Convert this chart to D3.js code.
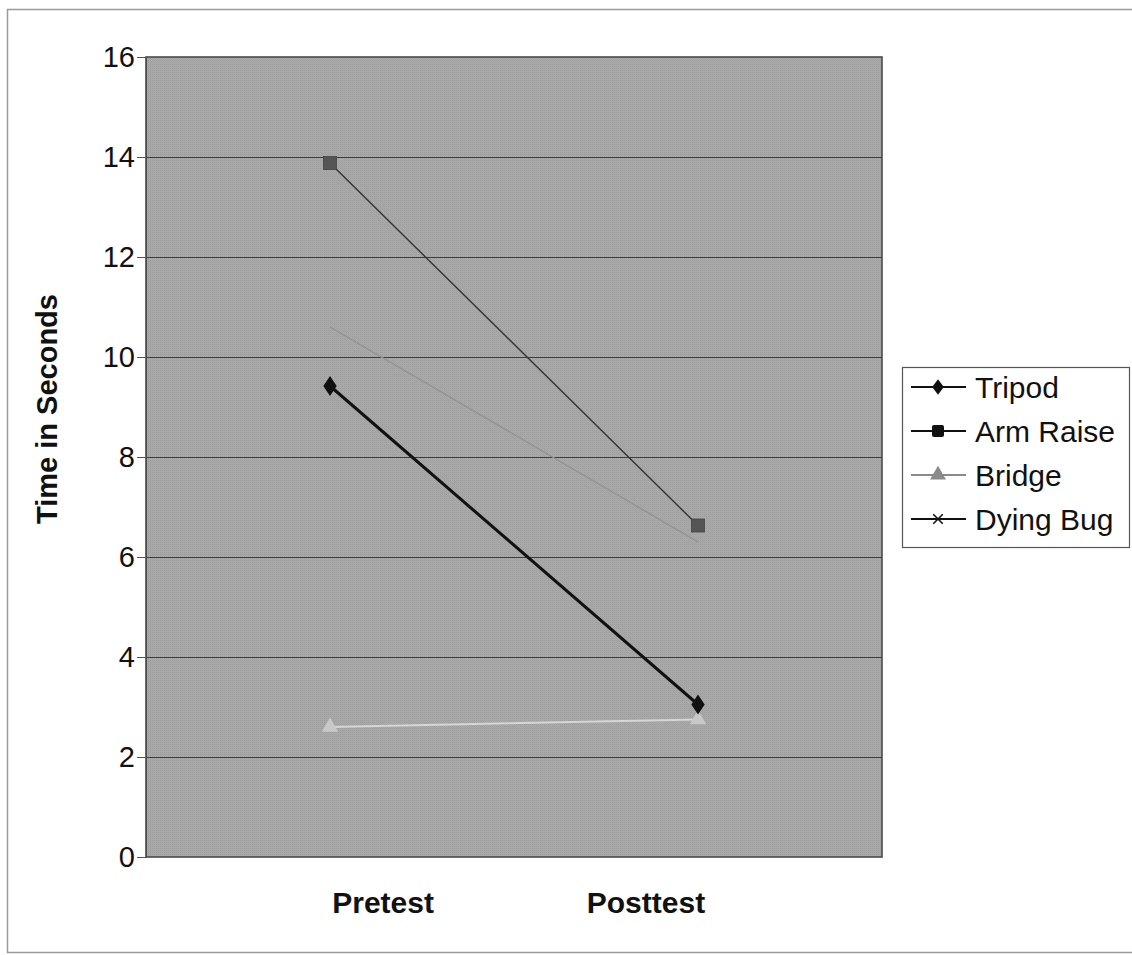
<!DOCTYPE html>
<html>
<head>
<meta charset="utf-8">
<script src="https://cdn.jsdelivr.net/npm/d3@7"></script>
<style>
  html, body { margin: 0; padding: 0; background: #fff; }
  svg { display: block; }
  text { font-family: "Liberation Sans", Arial, sans-serif; }
</style>
</head>
<body>
<svg id="chart" width="1132" height="955"></svg>
<script>
// ---- data ----
const categories = ["Pretest", "Posttest"];
const seriesNames = ["Tripod", "Arm Raise", "Bridge", "Dying Bug"];
const tripod = [9.42, 3.05];
const armRaise = [13.88, 6.63];
const bridge = [2.6, 2.75];
const dyingBug = [10.6, 6.3];
const yTicks = [0, 2, 4, 6, 8, 10, 12, 14, 16];

const series = [
  { name: seriesNames[3], values: dyingBug },
  { name: seriesNames[2], values: bridge },
  { name: seriesNames[1], values: armRaise },
  { name: seriesNames[0], values: tripod }
];

const styles = {
  "Tripod":    { stroke: "#111", width: 3, marker: "diamond", fill: "#111" },
  "Arm Raise": { stroke: "#333", width: 1.4, marker: "square", fill: "#555" },
  "Bridge":    { stroke: "#d6d6d6", width: 2, marker: "triangle", fill: "#c8c8c8" },
  "Dying Bug": { stroke: "#939393", width: 1.4, marker: "none", fill: "none" }
};

const svg = d3.select("#chart");
const L = 146, R = 882, T = 57, B = 857;

// outer border
svg.append("rect").attr("x", 7.5).attr("y", 9.5).attr("width", 1130).attr("height", 943)
  .attr("fill", "none").attr("stroke", "#9a9a9a").attr("stroke-width", 1.5);

// texture pattern
const defs = svg.append("defs");
const pat = defs.append("pattern").attr("id", "stip").attr("width", 2).attr("height", 2)
  .attr("patternUnits", "userSpaceOnUse");
pat.append("rect").attr("width", 2).attr("height", 2).attr("fill", "#aaaaaa");
pat.append("rect").attr("width", 1).attr("height", 1).attr("fill", "#9e9e9e");
pat.append("rect").attr("x", 1).attr("y", 1).attr("width", 1).attr("height", 1).attr("fill", "#a4a4a4");

const x = d3.scalePoint().domain(categories).range([L, R]).padding(0.5);
const xLabel = d3.scalePoint().domain(categories).range([L, R]).padding(0.9);
const y = d3.scaleLinear().domain([0, 16]).range([B, T]);

// plot area
svg.append("rect").attr("x", L).attr("y", T).attr("width", R - L).attr("height", B - T)
  .attr("fill", "url(#stip)");

// gridlines
svg.append("g").selectAll("line").data(yTicks.filter(d => d > 0 && d < 16)).join("line")
  .attr("x1", L).attr("x2", R)
  .attr("y1", d => Math.round(y(d)) + 0.5).attr("y2", d => Math.round(y(d)) + 0.5)
  .attr("stroke", "#3e3e3e").attr("stroke-width", 1);

// plot border
svg.append("rect").attr("x", L).attr("y", T).attr("width", R - L).attr("height", B - T)
  .attr("fill", "none").attr("stroke", "#4a4a4a").attr("stroke-width", 1.6);

// y axis
const yAxis = d3.axisLeft(y).tickValues(yTicks).tickSize(9).tickPadding(2).tickFormat(d3.format("d"));
const gy = svg.append("g").attr("transform", `translate(${L},0)`).call(yAxis);
gy.select(".domain").attr("stroke", "#4a4a4a");
gy.selectAll(".tick line").attr("stroke", "#555");
gy.selectAll(".tick text").attr("font-size", 29).attr("fill", "#111")
  .attr("font-family", "'Liberation Sans', Arial, sans-serif");

// x axis labels
const xAxis = d3.axisBottom(xLabel).tickSize(0).tickPadding(0);
const gx = svg.append("g").attr("transform", `translate(0,${B})`).call(xAxis);
gx.select(".domain").remove();
gx.selectAll(".tick text").attr("font-size", 30).attr("font-weight", "bold").attr("fill", "#111")
  .attr("dy", null).attr("y", 56)
  .attr("font-family", "'Liberation Sans', Arial, sans-serif");

// y title
svg.append("text").attr("transform", `translate(57,409) rotate(-90)`)
  .attr("text-anchor", "middle").attr("font-size", 29).attr("font-weight", "bold").attr("fill", "#111")
  .text("Time in Seconds");

// lines
const line = d3.line().x((d, i) => x(categories[i])).y(d => y(d));
svg.append("g").selectAll("path").data(series).join("path")
  .attr("d", d => line(d.values))
  .attr("fill", "none")
  .attr("stroke", d => styles[d.name].stroke)
  .attr("stroke-width", d => styles[d.name].width);

function drawMarker(g, type, cx, cy, fill, size) {
  if (type === "diamond") {
    g.append("path").attr("d", d3.symbol(d3.symbolDiamond, size * 9)())
      .attr("transform", `translate(${cx},${cy}) scale(1.15,1)`).attr("fill", fill);
  } else if (type === "square") {
    g.append("rect").attr("x", cx - size / 2).attr("y", cy - size / 2).attr("width", size).attr("height", size)
      .attr("fill", fill).attr("stroke", "#444").attr("stroke-width", 0.8);
  } else if (type === "triangle") {
    g.append("path").attr("d", d3.symbol(d3.symbolTriangle, size * 9)())
      .attr("transform", `translate(${cx},${cy})`).attr("fill", fill);
  }
}

const mg = svg.append("g");
series.forEach(s => {
  const st = styles[s.name];
  s.values.forEach((v, i) => drawMarker(mg, st.marker, x(categories[i]), y(v), st.fill, 13));
});

// legend
const lg = svg.append("g");
lg.append("rect").attr("x", 902.5).attr("y", 367.5).attr("width", 227).attr("height", 180)
  .attr("fill", "#fff").attr("stroke", "#555").attr("stroke-width", 1.2);
const legendItems = [
  { name: seriesNames[0], marker: "diamond", fill: "#111", stroke: "#111" },
  { name: seriesNames[1], marker: "square", fill: "#111", stroke: "#111" },
  { name: seriesNames[2], marker: "triangle", fill: "#8a8a8a", stroke: "#8a8a8a" },
  { name: seriesNames[3], marker: "x", fill: "#111", stroke: "#111" }
];
legendItems.forEach((it, i) => {
  const cy = 387 + i * 44;
  lg.append("line").attr("x1", 911).attr("x2", 966).attr("y1", cy).attr("y2", cy)
    .attr("stroke", it.stroke).attr("stroke-width", 2.2);
  if (it.marker === "square") {
    lg.append("rect").attr("x", 932).attr("y", cy - 6).attr("width", 12).attr("height", 12).attr("rx", 2).attr("fill", it.fill);
  } else if (it.marker === "diamond") {
    lg.append("path").attr("d", d3.symbol(d3.symbolDiamond, 70)()).attr("transform", `translate(938,${cy}) scale(1.3,1)`).attr("fill", it.fill);
  } else if (it.marker === "triangle") {
    lg.append("path").attr("d", d3.symbol(d3.symbolTriangle, 110)()).attr("transform", `translate(938,${cy})`).attr("fill", it.fill);
  } else {
    lg.append("path").attr("d", d3.symbol(d3.symbolX, 60)()).attr("transform", `translate(938,${cy})`)
      .attr("stroke", it.fill).attr("stroke-width", 1.6);
  }
  lg.append("text").attr("x", 975).attr("y", cy).attr("dy", "0.35em")
    .attr("font-size", 30).attr("fill", "#111").text(it.name);
});
</script>
</body>
</html>
